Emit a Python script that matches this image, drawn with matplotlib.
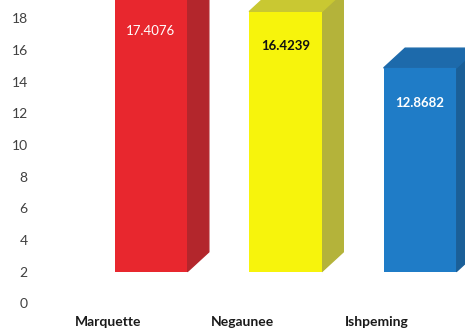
import numpy as np
import matplotlib
matplotlib.use("Agg")
from matplotlib import pyplot as plt
from matplotlib.patches import Polygon

# === Dados ===
cidades = ["Marquette", "Negaunee", "Ishpeming"]
valores = [17.4076, 16.4239, 12.8682]
base = 2  # piso do grafico 3D
cor_frente = ["#e8272e", "#f7f40c", "#1f7cc7"]
cor_lado = ["#b3262c", "#b4b33a", "#1a5f98"]
cor_topo = ["#c52a30", "#c9c832", "#1d6aab"]
cor_rotulo = ["white", "#111111", "white"]
peso_rotulo = ["normal", "bold", "bold"]
yticks = np.arange(0, 20, 2)

plt.rcParams["font.family"] = ["Lato", "DejaVu Sans"]

fig = plt.figure(figsize=(4.65, 3.32), dpi=100)
ax = fig.add_axes([36 / 465, 0, 1 - 36 / 465, 1])

x = np.arange(len(cidades))
largura = 0.54
dx, dy = 0.16, 1.25  # deslocamento da profundidade 3D

ax.bar(x, valores, bottom=base, width=largura, color=cor_frente, zorder=3)

# === Faces lateral e superior ===
for i, v in enumerate(valores):
    topo = base + v
    xd = x[i] + largura / 2
    xe = x[i] - largura / 2
    lado = Polygon([(xd, base), (xd + dx, base + dy), (xd + dx, topo + dy), (xd, topo)],
                   closed=True, color=cor_lado[i], zorder=2)
    cima = Polygon([(xe, topo), (xe + dx, topo + dy), (xd + dx, topo + dy), (xd, topo)],
                   closed=True, color=cor_topo[i], zorder=2)
    ax.add_patch(lado)
    ax.add_patch(cima)
    ax.text(x[i], topo - 2.2, f"{v:.4f}", ha="center", va="center", fontsize=9.5,
            color=cor_rotulo[i], fontweight=peso_rotulo[i], zorder=4)
    ax.text(x[i] - 0.32, -1.18, cidades[i], ha="center", va="center", fontsize=10,
            fontweight="bold", color="#1a1a1a")

ax.set_xlim(-0.855, 2.335)
ax.set_ylim(-1.81, 19.16)
ax.set_yticks(yticks)
ax.set_yticklabels([str(t) for t in yticks], fontsize=10, color="#404040")
ax.tick_params(axis="y", length=0, pad=6)
ax.set_xticks([])
for s in ax.spines.values():
    s.set_visible(False)
ax.patch.set_alpha(0)

fig.savefig("out.png", dpi=100)
